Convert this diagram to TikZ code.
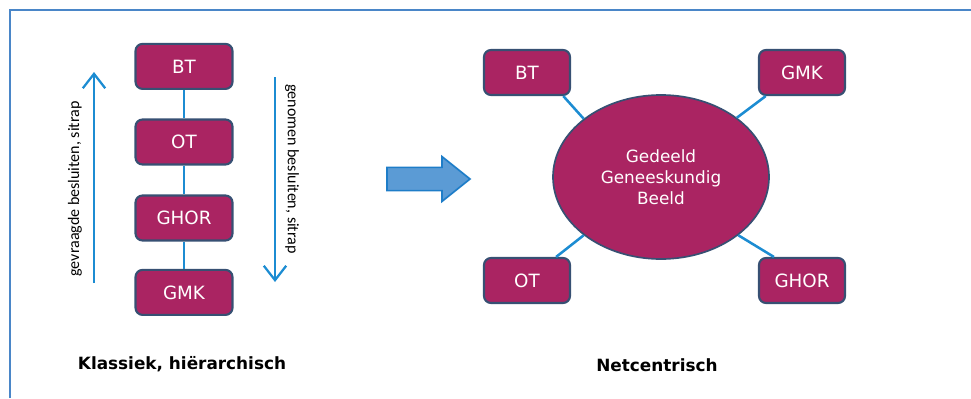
\documentclass[tikz,border=0pt]{standalone}
\usepackage{fontspec}
\setmainfont{Carlito}
\newfontfamily\boxfont{DejaVu Sans}
\usetikzlibrary{arrows.meta,shapes.geometric}

\definecolor{kader}{RGB}{74,134,200}
\definecolor{paars}{RGB}{170,36,98}
\definecolor{rand}{RGB}{55,80,115}
\definecolor{lijn}{RGB}{28,140,210}
\definecolor{pijlvul}{RGB}{91,155,213}
\definecolor{pijlrand}{RGB}{30,125,200}

\begin{document}
\begin{tikzpicture}[
  orgbox/.style={draw=rand, line width=1.5pt, fill=paars, rounded corners=5pt,
    minimum height=1.125cm, text=white, font=\boxfont\fontsize{13}{15}\selectfont},
  link/.style={draw=lijn, line width=1.8pt},
  flow/.style={draw=lijn, line width=1.6pt, -{Straight Barb[length=3.6mm,width=5.6mm,line width=1.6pt]}},
  caption/.style={font=\boxfont\bfseries\fontsize{12}{14}\selectfont}
]
%\draw [help lines] (0,0) grid (24,10);
\useasboundingbox (0,0) rectangle (24.275,9.95);

% kader
\coordinate (k1) at (0.25,0);
\coordinate (k2) at (0.25,9.7);
\coordinate (k3) at (24.275,9.7);
\draw [kader, line width=1pt] (k1) -- (k2) -- (k3);

% klassiek
\node [orgbox, minimum width=2.425cm] (bt1) at (4.6,8.29) {BT};
\node [orgbox, minimum width=2.425cm] (ot1) at (4.6,6.4) {OT};
\node [orgbox, minimum width=2.425cm] (ghor1) at (4.6,4.5) {GHOR};
\node [orgbox, minimum width=2.425cm] (gmk1) at (4.6,2.64) {GMK};

\draw [link] (bt1) -- (ot1);
\draw [link] (ot1) -- (ghor1);
\draw [link] (ghor1) -- (gmk1);

\coordinate (up1) at (2.35,2.875);
\coordinate (up2) at (2.35,8.15);
\draw [flow] (up1) -- (up2);
\node [rotate=90, font=\fontsize{11.4}{13}\selectfont] (gevr) at (1.875,5.225) {gevraagde besluiten, sitrap};

\coordinate (dn1) at (6.875,8.025);
\coordinate (dn2) at (6.875,2.9);
\draw [flow] (dn1) -- (dn2);
\node [rotate=-90, font=\fontsize{11.4}{13}\selectfont] (genom) at (7.3,5.725) {genomen besluiten, sitrap};

\node [caption] (klas) at (4.55,0.85) {Klassiek, hiërarchisch};

% overgang
\draw [pijlrand, line width=1.2pt, fill=pijlvul, line join=miter]
  (9.675,5.185) -- (11.05,5.185) -- (11.05,4.915) -- (11.75,5.475)
  -- (11.05,6.035) -- (11.05,5.765) -- (9.675,5.765) -- cycle;

% netcentrisch
\node [ellipse, draw=rand, line width=1.2pt, fill=paars, text=white,
  minimum width=5.4cm, minimum height=4.1cm, align=center,
  font=\boxfont\fontsize{12}{15}\selectfont] (net) at (16.525,5.525)
  {Gedeeld\\Geneeskundig\\Beeld};

\node [orgbox, minimum width=2.15cm] (bt2) at (13.175,8.1375) {BT};
\node [orgbox, minimum width=2.15cm] (gmk2) at (20.05,8.1375) {GMK};
\node [orgbox, minimum width=2.15cm] (ot2) at (13.175,2.9375) {OT};
\node [orgbox, minimum width=2.15cm] (ghor2) at (20.05,2.9375) {GHOR};

\draw [link] (bt2.-33) -- (net.143);
\draw [link] (gmk2.213) -- (net.38);
\draw [link] (ot2.39) -- (net.217);
\draw [link] (ghor2.140) -- (net.323);

\node [caption] (netc) at (16.425,0.825) {Netcentrisch};

\end{tikzpicture}
\end{document}
